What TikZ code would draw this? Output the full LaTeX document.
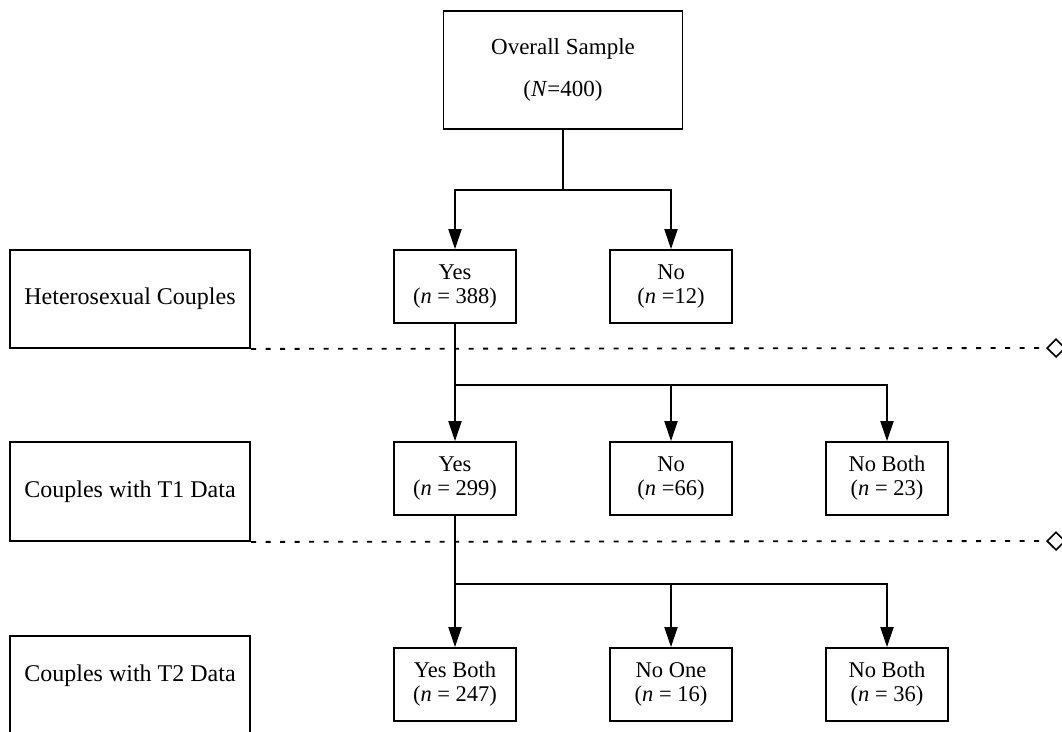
\documentclass[tikz,border=0pt]{standalone}
\usepackage{fontspec}
\setmainfont{Liberation Serif}
\usetikzlibrary{arrows.meta}
\begin{document}
\begin{tikzpicture}[x=1pt,y=-1pt,
  box/.style={draw, line width=1.8pt, inner sep=0pt, align=center},
  small/.style={box, minimum width=122pt, minimum height=73pt, font=\fontsize{22.5}{24}\selectfont},
  side/.style={box, minimum width=240.5pt, font=\fontsize{24}{26}\selectfont},
  conn/.style={line width=2pt},
  arr/.style={conn, -{Triangle[length=20pt,width=13pt]}},
  sep/.style={line width=1.8pt, dash pattern=on 5pt off 9.5pt, -{Diamond[open,length=20pt,width=20pt,line width=1.6pt]}}]
\useasboundingbox (0,0) rectangle (1062,731);

% top
\node[box, minimum width=239pt, minimum height=118pt, font=\fontsize{23}{42}\selectfont] (top) at (563,70) {Overall Sample\\(\textit{N}=400)};

% row 1
\node[side, minimum height=98pt] (het) at (130,299) {Heterosexual Couples};
\node[small] (yes1) at (455,286.5) {Yes\\(\textit{n} = 388)};
\node[small] (no1) at (671,286.5) {No\\(\textit{n} =12)};

% row 2
\node[side, minimum height=99pt] (t1) at (130,491.5) {Couples with T1 Data};
\node[small] (yes2) at (455,478.5) {Yes\\(\textit{n} = 299)};
\node[small] (no2) at (671,478.5) {No\\(\textit{n} =66)};
\node[small] (nob2) at (887,478.5) {No Both\\(\textit{n} = 23)};

% row 3
\node[side, minimum height=99pt, text height=16pt, text depth=25pt] (t2) at (130,685.5) {Couples with T2 Data};
\node[small] (yes3) at (455,684.5) {Yes Both\\(\textit{n} = 247)};
\node[small] (no3) at (671,684.5) {No One\\(\textit{n} = 16)};
\node[small] (nob3) at (887,684.5) {No Both\\(\textit{n} = 36)};

% separators
\coordinate (d1) at (1066,348);
\coordinate (d2) at (1066,541);
\draw[sep] (het.south east) -- (d1);
\draw[sep] (t1.south east) -- (d2);

% connectors
\coordinate (j0) at (563,190);
\draw[conn] (top) -- (j0);
\draw[arr] (j0) -| (yes1);
\draw[arr] (j0) -| (no1);

\coordinate (j1) at (455,385);
\draw[arr] (yes1) -- (yes2);
\draw[arr] (j1) -| (no2);
\draw[arr] (j1) -| (nob2);

\coordinate (j2) at (455,584);
\draw[arr] (yes2) -- (yes3);
\draw[arr] (j2) -| (no3);
\draw[arr] (j2) -| (nob3);
\end{tikzpicture}
\end{document}
